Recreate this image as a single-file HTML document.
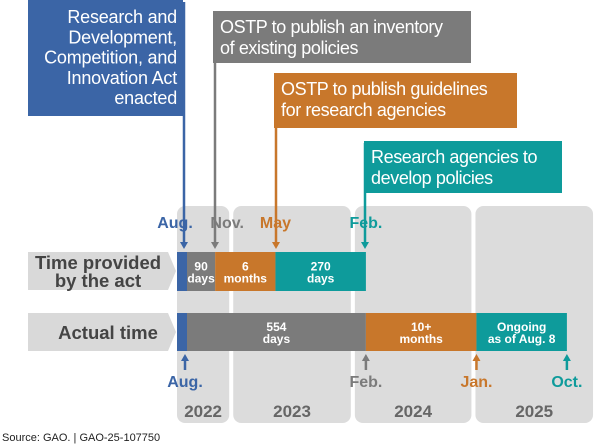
<!DOCTYPE html>
<html><head><meta charset="utf-8"><style>
body{margin:0;background:#fff;}
svg{display:block;font-family:"Liberation Sans",Arial,sans-serif;}
</style></head><body>
<svg id="c" width="600" height="444" viewBox="0 0 600 444">
<g id="panels"></g>
<g id="callouts"></g>
<g id="bars"></g>
<g id="marks"></g>
<text x="2" y="441" font-size="11" fill="#222">Source: GAO.  |  GAO-25-107750</text>
</svg>
<script>
// months after Aug 2022
const years=["2022","2023","2024","2025"];
const yearStart=[-0.8,4.8,16.9,28.9];
const yearEnd=[4.4,16.5,28.5,40.6];
const providedEnds=[3,9,18];
const providedLabels=[["90","days"],["6","months"],["270","days"]];
const actualEnds=[18,29,38];
const actualLabels=[["554","days"],["10+","months"],["Ongoing","as of Aug. 8"]];
const topMonths=[0,3,9,18];
const topLabels=["Aug.","Nov.","May","Feb."];
const bottomMonths=[0,18,29,38];
const bottomLabels=["Aug.","Feb.","Jan.","Oct."];
const colors=["#3b65a6","#7b7b7b","#c8772b","#0e9b9b"];
const segColors=["#7b7b7b","#c8772b","#0e9b9b"];
const x=m=>185+10.05*m;
const NS="http://www.w3.org/2000/svg";
function mk(p,t,a){const e=document.createElementNS(NS,t);for(const k in a)e.setAttribute(k,a[k]);p.appendChild(e);return e;}
const P=document.getElementById('panels'),C=document.getElementById('callouts'),B=document.getElementById('bars'),M=document.getElementById('marks');
years.forEach((y,i)=>{
 const x0=Math.max(177,x(yearStart[i])),x1=x(yearEnd[i]);
 const r=mk(P,'rect',{x:x0,y:206,width:x1-x0,height:217,rx:8,fill:'#dcdcdc'});
 
 
 const t=mk(P,'text',{x:(x0+x1)/2,y:417,'text-anchor':'middle','font-size':17,'font-weight':'bold',fill:'#666'});
 t.textContent=y;
 
 
});
const boxes=[
 {x:28,y:0,w:155,h:116,lines:["Research and","Development,","Competition, and","Innovation Act","enacted"],anchor:'end',lx:184},
 {x:213,y:11,w:258,h:52,lines:["OSTP to publish an inventory","of existing policies"],anchor:'start',lx:215},
 {x:274,y:73,w:243,h:55,lines:["OSTP to publish guidelines","for research agencies"],anchor:'start',lx:276},
 {x:364,y:141,w:198,h:52,lines:["Research agencies to","develop policies"],anchor:'start',lx:365}];
const names=["act-enacted-callout","inventory-callout","guidelines-callout","agency-policies-callout"];
boxes.forEach((b,i)=>{
 const g=mk(C,'g',{});
 
 
 mk(g,'rect',{x:b.x,y:b.y,width:b.w,height:b.h,fill:colors[i]});
 mk(g,'line',{x1:b.lx,y1:b.y+2,x2:b.lx,y2:244,stroke:colors[i],'stroke-width':2.5});
 mk(g,'path',{d:`M${b.lx-4} 242 L${b.lx+4} 242 L${b.lx} 249 Z`,fill:colors[i]});
 const t=mk(g,'text',{'font-size':18,fill:'#fff','text-anchor':b.anchor,'letter-spacing':i==0?'-0.2':'-0.4'});
 b.lines.forEach((l,j)=>{const s=mk(t,'tspan',{x:b.anchor==='end'?b.x+b.w-6:b.x+7,y:b.y+(i==0?23:22)+j*(i==0?20.3:21)});s.textContent=l;});
});
[["Time provided","by the act",252],["Actual time",null,313]].forEach((r,i)=>{
 const g=mk(B,'g',{});
 
 
 const y=r[2];
 mk(g,'path',{d:`M28 ${y} L168 ${y} L176 ${y+19} L168 ${y+38} L28 ${y+38} Z`,fill:'#d9d9d9'});
 const t=mk(g,'text',{'font-size':18.5,'font-weight':'bold',fill:'#444','text-anchor':'middle'});
 if(r[1]){let s=mk(t,'tspan',{x:98,y:y+17});s.textContent=r[0];s=mk(t,'tspan',{x:98,y:y+35});s.textContent=r[1];}
 else{const s=mk(t,'tspan',{x:108,y:y+26});s.textContent=r[0];}
});
function drawRow(ends,labels,y,h,nm){
 const s=mk(B,'rect',{x:177,y:y,width:10,height:h,fill:colors[0]});
 
 
 let prev=187;
 ends.forEach((m,i)=>{
  const xe=x(m);
  const r=mk(B,'rect',{x:prev,y:y,width:xe-prev,height:h,fill:segColors[i]});
  
  
  const t=mk(B,'text',{'font-size':12,'font-weight':'bold',fill:'#fff','text-anchor':'middle'});
  labels[i].forEach((l,j)=>{const sp=mk(t,'tspan',{x:(prev+xe)/2,y:y+h/2-1+j*12});sp.textContent=l;});
  
  
  prev=xe;
 });
}
drawRow(providedEnds,providedLabels,252,39,'provided-bar');
drawRow(actualEnds,actualLabels,313,38,'actual-bar');
topMonths.forEach((m,i)=>{
 const t=mk(M,'text',{x:x(m)+(i==0?-10:i==1?12:0),y:228,'text-anchor':'middle','font-size':16,'font-weight':'bold',fill:colors[i]});
 t.textContent=topLabels[i];
 
 
});
bottomMonths.forEach((m,i)=>{
 const c=colors[i],xx=x(m);
 mk(M,'line',{x1:xx,y1:370,x2:xx,y2:359,stroke:c,'stroke-width':2.5});
 mk(M,'path',{d:`M${xx-4} 361 L${xx+4} 361 L${xx} 354 Z`,fill:c});
 const t=mk(M,'text',{x:xx,y:387,'text-anchor':'middle','font-size':16,'font-weight':'bold',fill:c});
 t.textContent=bottomLabels[i];
 
 
});
</script>
</body></html>
